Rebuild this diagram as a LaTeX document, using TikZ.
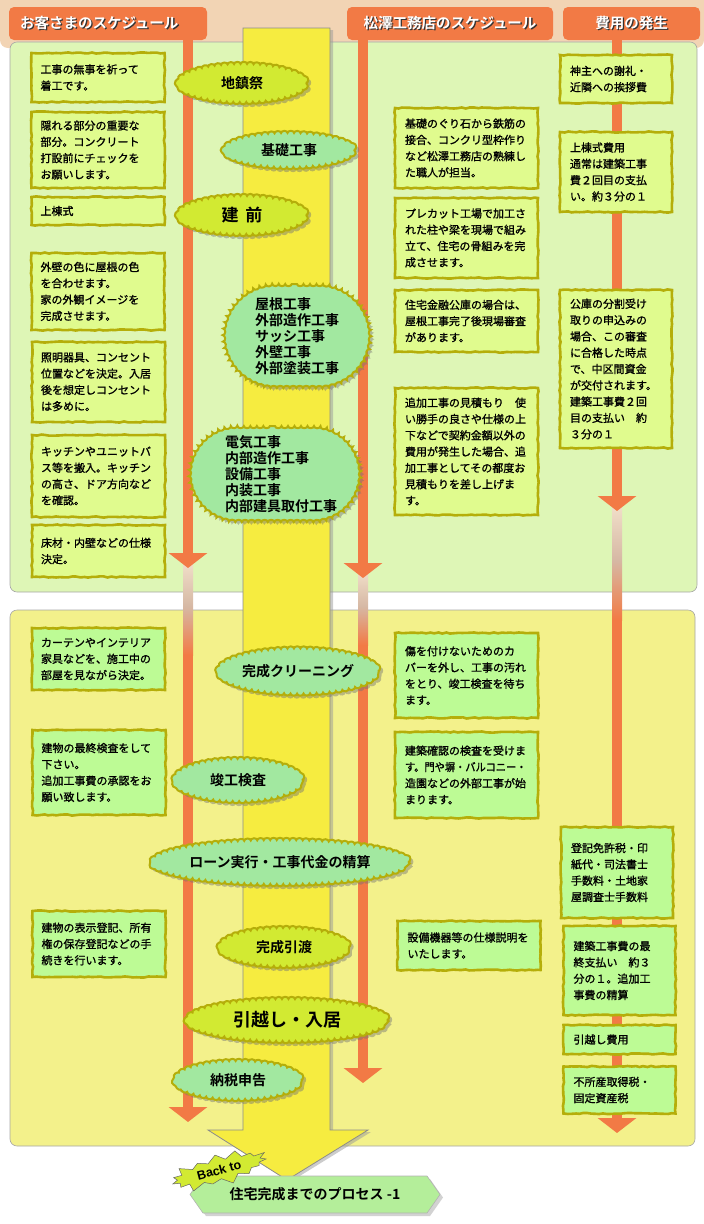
\documentclass[tikz,border=0pt]{standalone}
\usepackage{fontspec}
\setmainfont{Noto Sans CJK JP}[BoldFont={Noto Sans CJK JP Bold}]
\newfontfamily\memof{Noto Sans CJK JP}[RawFeature={embolden=1.2}]
\newfontfamily\latinf{Liberation Sans}
\usetikzlibrary{calc,positioning,arrows.meta,decorations.pathmorphing,shapes.symbols,shapes.geometric,shapes.misc,shadows}
\definecolor{peach}{RGB}{242,212,180}
\definecolor{tabc}{RGB}{242,122,69}
\definecolor{panelg}{RGB}{222,246,182}
\definecolor{panely}{RGB}{243,241,139}
\definecolor{boxlime}{RGB}{224,251,142}
\definecolor{boxgreen}{RGB}{189,251,149}
\definecolor{olivec}{RGB}{181,174,10}
\definecolor{cloudg}{RGB}{162,232,160}
\definecolor{cloudy}{RGB}{210,234,50}
\definecolor{shaftc}{RGB}{246,236,64}
\definecolor{fadea}{RGB}{243,226,204}
\definecolor{fadeb}{RGB}{214,184,164}
\definecolor{btnc}{RGB}{180,238,154}
\newcommand\shd[1]{\rlap{\kern1.3pt\raisebox{-1.3pt}{\color{black!80}#1}}#1}
\tikzset{
  hdr/.style={rectangle,rounded corners=5pt,fill=tabc,inner ysep=0pt,inner xsep=11pt,minimum height=33pt,font=\fontsize{14.5}{16}\selectfont\bfseries,text=white},
  pnl/.style={draw=black!35,line width=0.6pt,rounded corners=7pt},
  tl/.style={draw=tabc,line width=10pt,-{Triangle[width=38pt,length=15pt]}},
  fadebar/.style={top color=fadea,bottom color=tabc,middle color=fadeb},
  shaft/.style={fill=shaftc,draw=black!45,line width=0.8pt,drop shadow={shadow xshift=3pt,shadow yshift=-2pt,fill=black!40,opacity=0.5}},
  memo/.style={rectangle,draw=olivec,line width=2.6pt,decorate,decoration={random steps,segment length=4pt,amplitude=0.6pt},align=left,inner ysep=0pt,font=\memof\fontsize{11}{16.3}\selectfont},
  memol/.style={memo,text width=115pt,inner xsep=9pt},
  memom/.style={memo,text width=123pt,inner xsep=10pt},
  memor/.style={memo,text width=92pt,inner xsep=10pt},
  kbase/.style={ellipse,inner sep=0pt,draw=olivec,line width=2pt,decorate,decoration={bumps,mirror,segment length=13pt,amplitude=2.2pt},drop shadow={shadow xshift=3pt,shadow yshift=-3pt,fill=black!55,opacity=0.45},font=\fontsize{14}{16}\selectfont\bfseries},
  kg/.style={kbase,fill=cloudg},
  ky/.style={kbase,fill=cloudy},
  kbox/.style={rounded rectangle},
  ktxt/.style={align=left,inner sep=0pt,font=\fontsize{14}{16}\selectfont\bfseries},
  btn/.style={signal,signal to=west and east,signal pointer angle=110,fill=btnc,draw=black!30,line width=0.6pt,minimum width=250pt,minimum height=37pt,inner sep=0pt,font=\fontsize{14}{16}\selectfont\bfseries,drop shadow={shadow xshift=3pt,shadow yshift=-3pt,fill=black!35}},
  burst/.style={starburst,starburst points=15,starburst point height=9pt,fill=cloudy,draw=black!60,line width=0.5pt,minimum width=104pt,minimum height=36pt,inner sep=0pt,rotate=15,font=\latinf\fontsize{12.5}{13}\selectfont\bfseries},
}
\begin{document}
\begin{tikzpicture}[x=1pt,y=-1pt]
  \useasboundingbox (0,0) rectangle (704,1224);
  \pgfmathsetseed{5}
  \fill[peach,rounded corners=8pt] (0,-10) rectangle (704,48);
  \draw[pnl,fill=panelg] (10,42) rectangle (697,592);
  \draw[pnl,fill=panely] (10,610) rectangle (695,1146);

  % time lines
  \coordinate (l1a) at (188,38); \coordinate (l1b) at (188,568);
  \coordinate (l1c) at (188,655); \coordinate (l1d) at (188,1122);
  \coordinate (l2a) at (363,38); \coordinate (l2b) at (363,578);
  \coordinate (l2c) at (363,645); \coordinate (l2d) at (363,1083);
  \coordinate (l3a) at (617,38); \coordinate (l3b) at (617,511);
  \coordinate (l3c) at (617,620); \coordinate (l3d) at (617,1133);
  \foreach \n in {1,2,3}
    {\shade[fadebar] ($(l\n b)+(-5,-10)$) rectangle ($(l\n c)+(5,0)$);}
  \foreach \a/\b in {l1a/l1b,l1c/l1d,l2a/l2b,l2c/l2d,l3a/l3b,l3c/l3d}
    {\draw[tl] (\a) -- (\b);}

  \node[hdr,minimum width=198pt,text width=176pt,align=left] (h1) at (108,23.5) {\shd{お客さまのスケジュール}};
  \node[hdr,minimum width=206pt] (h2) at (450,23.5) {\shd{松澤工務店のスケジュール}};
  \node[hdr,minimum width=137pt] (h3) at (631.5,23.5) {\shd{費用の発生}};

  \path[shaft] (243,28) -- (330,28) -- (330,1130) -- (368,1130) -- (287,1180) -- (208,1130) -- (243,1130) -- cycle;

  % customer
  \node[memol,fill=boxlime,minimum height=49pt] (a1) at (98,77.5) {工事の無事を祈って\\着工です。};
  \node[memol,fill=boxlime,minimum height=76pt] (a2) at (98,150) {隠れる部分の重要な\\部分。コンクリート\\打設前にチェックを\\お願いします。};
  \node[memol,fill=boxlime,minimum height=28pt] (a3) at (98,211) {上棟式};
  \node[memol,fill=boxlime,minimum height=77pt] (a4) at (98,291.5) {外壁の色に屋根の色\\を合わせます。\\家の外観イメージを\\完成させます。};
  \node[memol,fill=boxlime,minimum height=80pt] (a5) at (98.5,382) {照明器具、コンセント\\位置などを決定。入居\\後を想定しコンセント\\は多めに。};
  \node[memol,fill=boxlime,minimum height=82pt] (a6) at (98.5,476) {キッチンやユニットバ\\ス等を搬入。キッチン\\の高さ、ドア方向など\\を確認。};
  \node[memol,fill=boxlime,minimum height=52pt] (a7) at (98.5,551) {床材・内壁などの仕様\\決定。};
  \node[memol,fill=boxgreen,minimum height=62pt] (a8) at (98.5,659) {カーテンやインテリア\\家具などを、施工中の\\部屋を見ながら決定。};
  \node[memol,fill=boxgreen,minimum height=85pt] (a9) at (99,772.5) {建物の最終検査をして\\下さい。\\追加工事費の承認をお\\願い致します。};
  \node[memol,fill=boxgreen,minimum height=66pt] (a10) at (99,944) {建物の表示登記、所有\\権の保存登記などの手\\続きを行います。};

  % builder
  \node[memom,fill=boxlime,minimum height=80pt] (b1) at (466.5,148) {基礎のぐり石から鉄筋の\\接合、コンクリ型枠作り\\など松澤工務店の熟練し\\た職人が担当。};
  \node[memom,fill=boxlime,minimum height=80pt] (b2) at (466.5,238) {プレカット工場で加工さ\\れた柱や梁を現場で組み\\立て、住宅の骨組みを完\\成させます。};
  \node[memom,fill=boxlime,minimum height=62pt] (b3) at (466.5,321) {住宅金融公庫の場合は、\\屋根工事完了後現場審査\\があります。};
  \node[memom,fill=boxlime,minimum height=127pt] (b4) at (466.5,451.5) {追加工事の見積もり　使\\い勝手の良さや仕様の上\\下などで契約金額以外の\\費用が発生した場合、追\\加工事としてその都度お\\見積もりを差し上げま\\す。};
  \node[memom,fill=boxgreen,minimum height=85pt] (b5) at (466.5,675.5) {傷を付けないためのカ\\バーを外し、工事の汚れ\\をとり、竣工検査を待ち\\ます。};
  \node[memom,fill=boxgreen,minimum height=86pt] (b6) at (466.5,775) {建築確認の検査を受けま\\\scalebox{0.93}[1]{す。門や塀・バルコニー・}\\造園などの外部工事が始\\まります。};
  \node[memom,fill=boxgreen,minimum height=49pt] (b7) at (469,945.5) {設備機器等の仕様説明を\\いたします。};

  % costs
  \node[memor,fill=boxlime,minimum height=48pt] (c1) at (616,79) {神主への謝礼・\\近隣への挨拶費};
  \node[memor,fill=boxlime,minimum height=80pt] (c2) at (616,172) {上棟式費用\\通常は建築工事\\費２回目の支払\\い。約３分の１};
  \node[memor,fill=boxlime,minimum height=158pt] (c3) at (616,369) {公庫の分割受け\\取りの申込みの\\場合、この審査\\に合格した時点\\で、中区間資金\\が交付されます。\\建築工事費２回\\目の支払い　約\\３分の１};
  \node[memor,fill=boxgreen,minimum height=91pt] (c4) at (617,872.5) {登記免許税・印\\紙代・司法書士\\手数料・土地家\\屋調査士手数料};
  \node[memor,fill=boxgreen,minimum height=89pt] (c5) at (619.5,970.5) {建築工事費の最\\終支払い　約３\\分の１。追加工\\事費の精算};
  \node[memor,fill=boxgreen,minimum height=29pt] (c6) at (619.5,1039.5) {引越し費用};
  \node[memor,fill=boxgreen,minimum height=47pt] (c7) at (619.5,1090) {不所産取得税・\\固定資産税};

  % stages
  \node[ky,minimum width=128pt,minimum height=38pt] (k1) at (242,83) {地鎮祭};
  \node[kg,minimum width=130pt,minimum height=34pt] (k2) at (289,150) {基礎工事};
  \node[ky,minimum width=128pt,minimum height=38pt,font=\fontsize{17}{18}\selectfont\bfseries] (k3) at (242,215) {建\hspace{7pt}前};
  \node[kg,kbox,minimum width=148pt,minimum height=104pt] (k4) at (297,336) {};
  \node[ktxt] (k4t) at (k4) {屋根工事\\外部造作工事\\サッシ工事\\外壁工事\\外部塗装工事};
  \node[kg,kbox,minimum width=172pt,minimum height=96pt] (k5) at (275,474) {};
  \node[ktxt] (k5t) at ($(k5)+(6,0)$) {電気工事\\内部造作工事\\設備工事\\内装工事\\内部建具取付工事};
  \node[kg,minimum width=160pt,minimum height=45pt] (k6) at (298,671) {完成クリーニング};
  \node[kg,minimum width=128pt,minimum height=42pt] (k7) at (238,780) {竣工検査};
  \node[kg,minimum width=252pt,minimum height=44pt] (k8) at (280,862) {ローン実行・工事代金の精算};
  \node[ky,minimum width=129pt,minimum height=38pt] (k9) at (284,947) {完成引渡};
  \node[ky,minimum width=200pt,minimum height=42pt,font=\fontsize{18}{20}\selectfont\bfseries] (k10) at (287,1020) {引越し・入居};
  \node[kg,minimum width=126pt,minimum height=38pt] (k11) at (238,1080) {納税申告};

  \node[btn] (bk) at (315,1194.5) {住宅完成までのプロセス -1};
  \node[burst] (bt) at (219,1170) {Back to};
\end{tikzpicture}
\end{document}
